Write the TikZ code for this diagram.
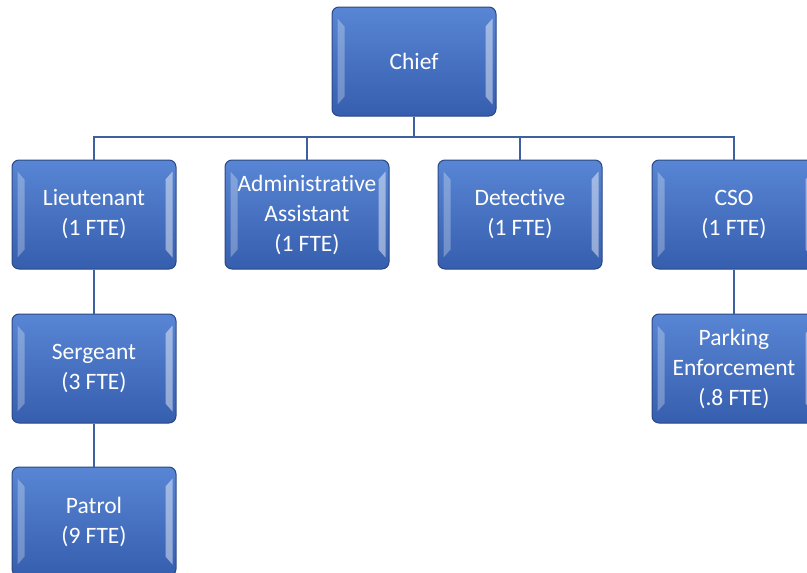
\documentclass[tikz,border=0pt]{standalone}
\usepackage{fontspec}
\setmainfont{Carlito}[Ligatures=NoCommon]
\definecolor{boxtop}{RGB}{88,134,212}
\definecolor{boxbot}{RGB}{54,94,174}
\definecolor{boxedge}{RGB}{42,72,132}
\definecolor{linkblue}{RGB}{62,96,160}
\tikzset{
  unit/.style={draw=boxedge, line width=1pt, rounded corners=7pt,
    top color=boxtop, bottom color=boxbot,
    minimum width=164pt, minimum height=109pt, inner sep=0pt,
    text=white, align=center, font=\fontsize{23.5}{30}\selectfont},
  link/.style={draw=linkblue, line width=2.5pt},
  bevel/.style={fill=white, opacity=0.28}
}
\begin{document}
\begin{tikzpicture}[x=1pt,y=-1pt]
  \useasboundingbox (0,0) rectangle (807,573);
  \clip (0,0) rectangle (807,573);
  % top of the chart
  \node[unit] (chief) at (414,61.5) {Chief};
  % second row
  \node[unit] (lieut) at (94,214.5) {Lieutenant\\(1 FTE)};
  \node[unit] (admin) at (307,214.5) {Administrative\\Assistant\\(1 FTE)};
  \node[unit] (detect) at (520,214.5) {Detective\\(1 FTE)};
  \node[unit] (cso) at (734,214.5) {CSO\\(1 FTE)};
  % lower rows
  \node[unit] (sgt) at (94,368.5) {Sergeant\\(3 FTE)};
  \node[unit] (patrol) at (94,521.5) {Patrol\\(9 FTE)};
  \node[unit] (parking) at (734,368.5) {Parking\\Enforcement\\(.8 FTE)};
  % bevel strips
  \foreach \n in {chief,lieut,admin,detect,cso,sgt,patrol,parking} {
    \fill[bevel] ([xshift=6pt,yshift=-12pt]\n.north west) -- ([xshift=13pt,yshift=-20pt]\n.north west)
      -- ([xshift=13pt,yshift=20pt]\n.south west) -- ([xshift=6pt,yshift=12pt]\n.south west) -- cycle;
    \fill[bevel,opacity=0.45] ([xshift=-4pt,yshift=-12pt]\n.north east) -- ([xshift=-11pt,yshift=-20pt]\n.north east)
      -- ([xshift=-11pt,yshift=20pt]\n.south east) -- ([xshift=-4pt,yshift=12pt]\n.south east) -- cycle;
  }
  % connectors
  \coordinate (bus) at (414,137);
  \draw[link] (chief.south) -- (bus);
  \foreach \n in {lieut,admin,detect,cso}
    \draw[link] (bus) -| (\n.north);
  \draw[link] (lieut) -- (sgt);
  \draw[link] (sgt) -- (patrol);
  \draw[link] (cso) -- (parking);
\end{tikzpicture}
\end{document}
